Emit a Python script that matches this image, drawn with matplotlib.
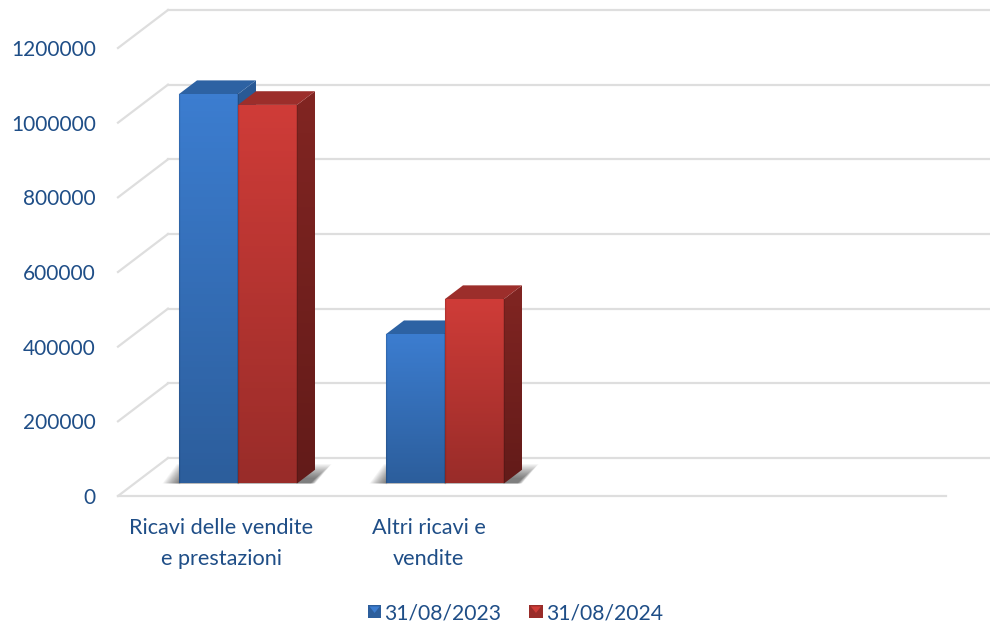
import numpy as np
import matplotlib
matplotlib.use("Agg")
import matplotlib.pyplot as plt
from matplotlib.legend_handler import HandlerBase
from matplotlib.patches import Polygon, Rectangle
from matplotlib.ticker import FormatStrFormatter

categories = ["Ricavi delle vendite\ne prestazioni", "Altri ricavi e\nvendite"]
series_names = ["31/08/2023", "31/08/2024"]
values_2023 = [1043000, 400000]
values_2024 = [1014000, 494000]
y_ticks = [0, 200000, 400000, 600000, 800000, 1000000, 1200000]
n_slots = 4

TEXT = "#1F4E87"
GRID = "#DEDEDE"

# depth of the fake 3d box, in axis units per unit of depth
DX = 50 / 207
DV = 38 / 74.67 * 200000
D0, D1 = 0.33, 0.69
W = 59 / 207

BLUE = dict(front_top="#3C7DD0", front_bot="#2C5E9C", top="#2D62A3", side_top="#2A5A96", side_bot="#204878")
RED = dict(front_top="#CF3C38", front_bot="#992C29", top="#9C2E2B", side_top="#812522", side_bot="#631B19")

plt.rcParams["font.family"] = ["Lato", "DejaVu Sans"]
fig = plt.figure(figsize=(9.9, 6.26), dpi=100)
ax = fig.add_axes([118 / 990, 1 - 496 / 626, 828 / 990, 448 / 626])


def proj(x, v, d):
    return x + DX * d, v + DV * d


def rgb(c):
    return np.array(matplotlib.colors.to_rgb(c))


def shade(poly_pts, top, bot, z):
    im = ax.imshow(np.linspace(rgb(top), rgb(bot), 64)[:, None, :], aspect="auto", zorder=z,
                   extent=[min(p[0] for p in poly_pts), max(p[0] for p in poly_pts),
                           min(p[1] for p in poly_pts), max(p[1] for p in poly_pts)])
    clip = Polygon(poly_pts, closed=True, transform=ax.transData, fc="none", ec="none")
    ax.add_patch(clip)
    im.set_clip_path(clip)


def draw_shadow(x0, x1):
    # soft shadow on the floor, behind a pair of bars
    base = DV * D0
    dx = DX * (D1 - D0)
    for k in range(18):
        g = 0.0045 * k
        b = 2200 * k
        ax.add_patch(Polygon([(x0 - 0.08 + g, base), (x1 + dx - g * 0.3, base),
                              (x1 + dx + 0.08 - g, base + 52000 - b),
                              (x0 - 0.01 + g * 0.4, base + 52000 - b)], closed=True,
                             fc="#000000", alpha=0.035, ec="none", zorder=2, clip_on=False))


def draw_bar(x0, value, st, z):
    x1 = x0 + W
    base = DV * D0
    top = base + value
    dx = DX * (D1 - D0)
    dv = DV * (D1 - D0)
    side = [(x1, base), (x1 + dx, base + dv), (x1 + dx, top + dv), (x1, top)]
    shade(side, st["side_top"], st["side_bot"], z)
    ax.add_patch(Polygon([(x0, top), (x0 + dx, top + dv), (x1 + dx, top + dv), (x1, top)], closed=True,
                         fc=st["top"], ec="none", zorder=z, clip_on=False))
    bar = ax.bar(x0, value, width=W, bottom=base, align="edge", color="none", zorder=z + 0.2)[0]
    shade([(x0, base), (x1, base), (x1, top), (x0, top)], st["front_top"], st["front_bot"], z + 0.1)
    ax.plot([x1, x1], [base, top], color="#000000", alpha=0.12, lw=1.2, zorder=z + 0.3, clip_on=False)
    ax.plot([x0, x0], [base, top], color="#000000", alpha=0.12, lw=1.0, zorder=z + 0.3, clip_on=False)
    return bar


# walls and floor
for v in y_ticks:
    xb, vb = proj(-0.5, v, 1)
    ax.plot([-0.5, xb], [v, vb], color=GRID, lw=1.6, zorder=1, clip_on=False)
    ax.plot([xb, proj(n_slots - 0.5, 0, 1)[0]], [vb, vb], color=GRID, lw=1.6, zorder=1, clip_on=False)
ax.plot([-0.5, n_slots - 0.5], [0, 0], color=GRID, lw=1.6, zorder=1, clip_on=False)

shift = DX * D0
for i in range(len(categories)):
    draw_shadow(i - W + shift, i + W + shift)
    draw_bar(i - W + shift, values_2023[i], BLUE, 3)
    draw_bar(i + shift, values_2024[i], RED, 4)

ax.set_xlim(-0.5, n_slots - 0.5)
ax.set_ylim(0, 1200000)
for s in ax.spines.values():
    s.set_visible(False)
ax.set_yticks(y_ticks)
ax.yaxis.set_major_formatter(FormatStrFormatter("%d"))
ax.set_xticks(range(len(categories)))
ax.set_xticklabels(categories, linespacing=1.68)
ax.tick_params(axis="y", length=0, pad=16, labelsize=15.0, labelcolor=TEXT)
ax.tick_params(axis="x", length=0, pad=16, labelsize=15.6, labelcolor=TEXT)
ax.patch.set_visible(False)


class KeyHandler(HandlerBase):
    # small square key with the lighter wedge at the top
    def create_artists(self, legend, orig, xd, yd, w, h, fs, trans):
        s = 9.5
        x0 = w - s
        y0 = (h - s) / 2
        sq = Rectangle((x0, y0), s, s, fc=orig.get_edgecolor(), ec="none", transform=trans)
        tri = Polygon([(x0 + 1, y0 + s - 1), (x0 + s - 1, y0 + s - 1), (x0 + s / 2, y0 + s * 0.4)], closed=True,
                      fc=orig.get_facecolor(), ec="none", transform=trans)
        return [sq, tri]


keys = [Rectangle((0, 0), 1, 1, fc=BLUE["front_top"], ec=BLUE["front_bot"]),
        Rectangle((0, 0), 1, 1, fc=RED["front_top"], ec=RED["front_bot"])]
fig.legend(keys, series_names, loc="center", bbox_to_anchor=(511.5 / 990, 1 - 613 / 626), ncol=2, frameon=False,
           fontsize=15.2, labelcolor=TEXT, handler_map={Rectangle: KeyHandler()},
           handlelength=1, handletextpad=0.16, columnspacing=0.94)

fig.savefig("out.png", dpi=100)
